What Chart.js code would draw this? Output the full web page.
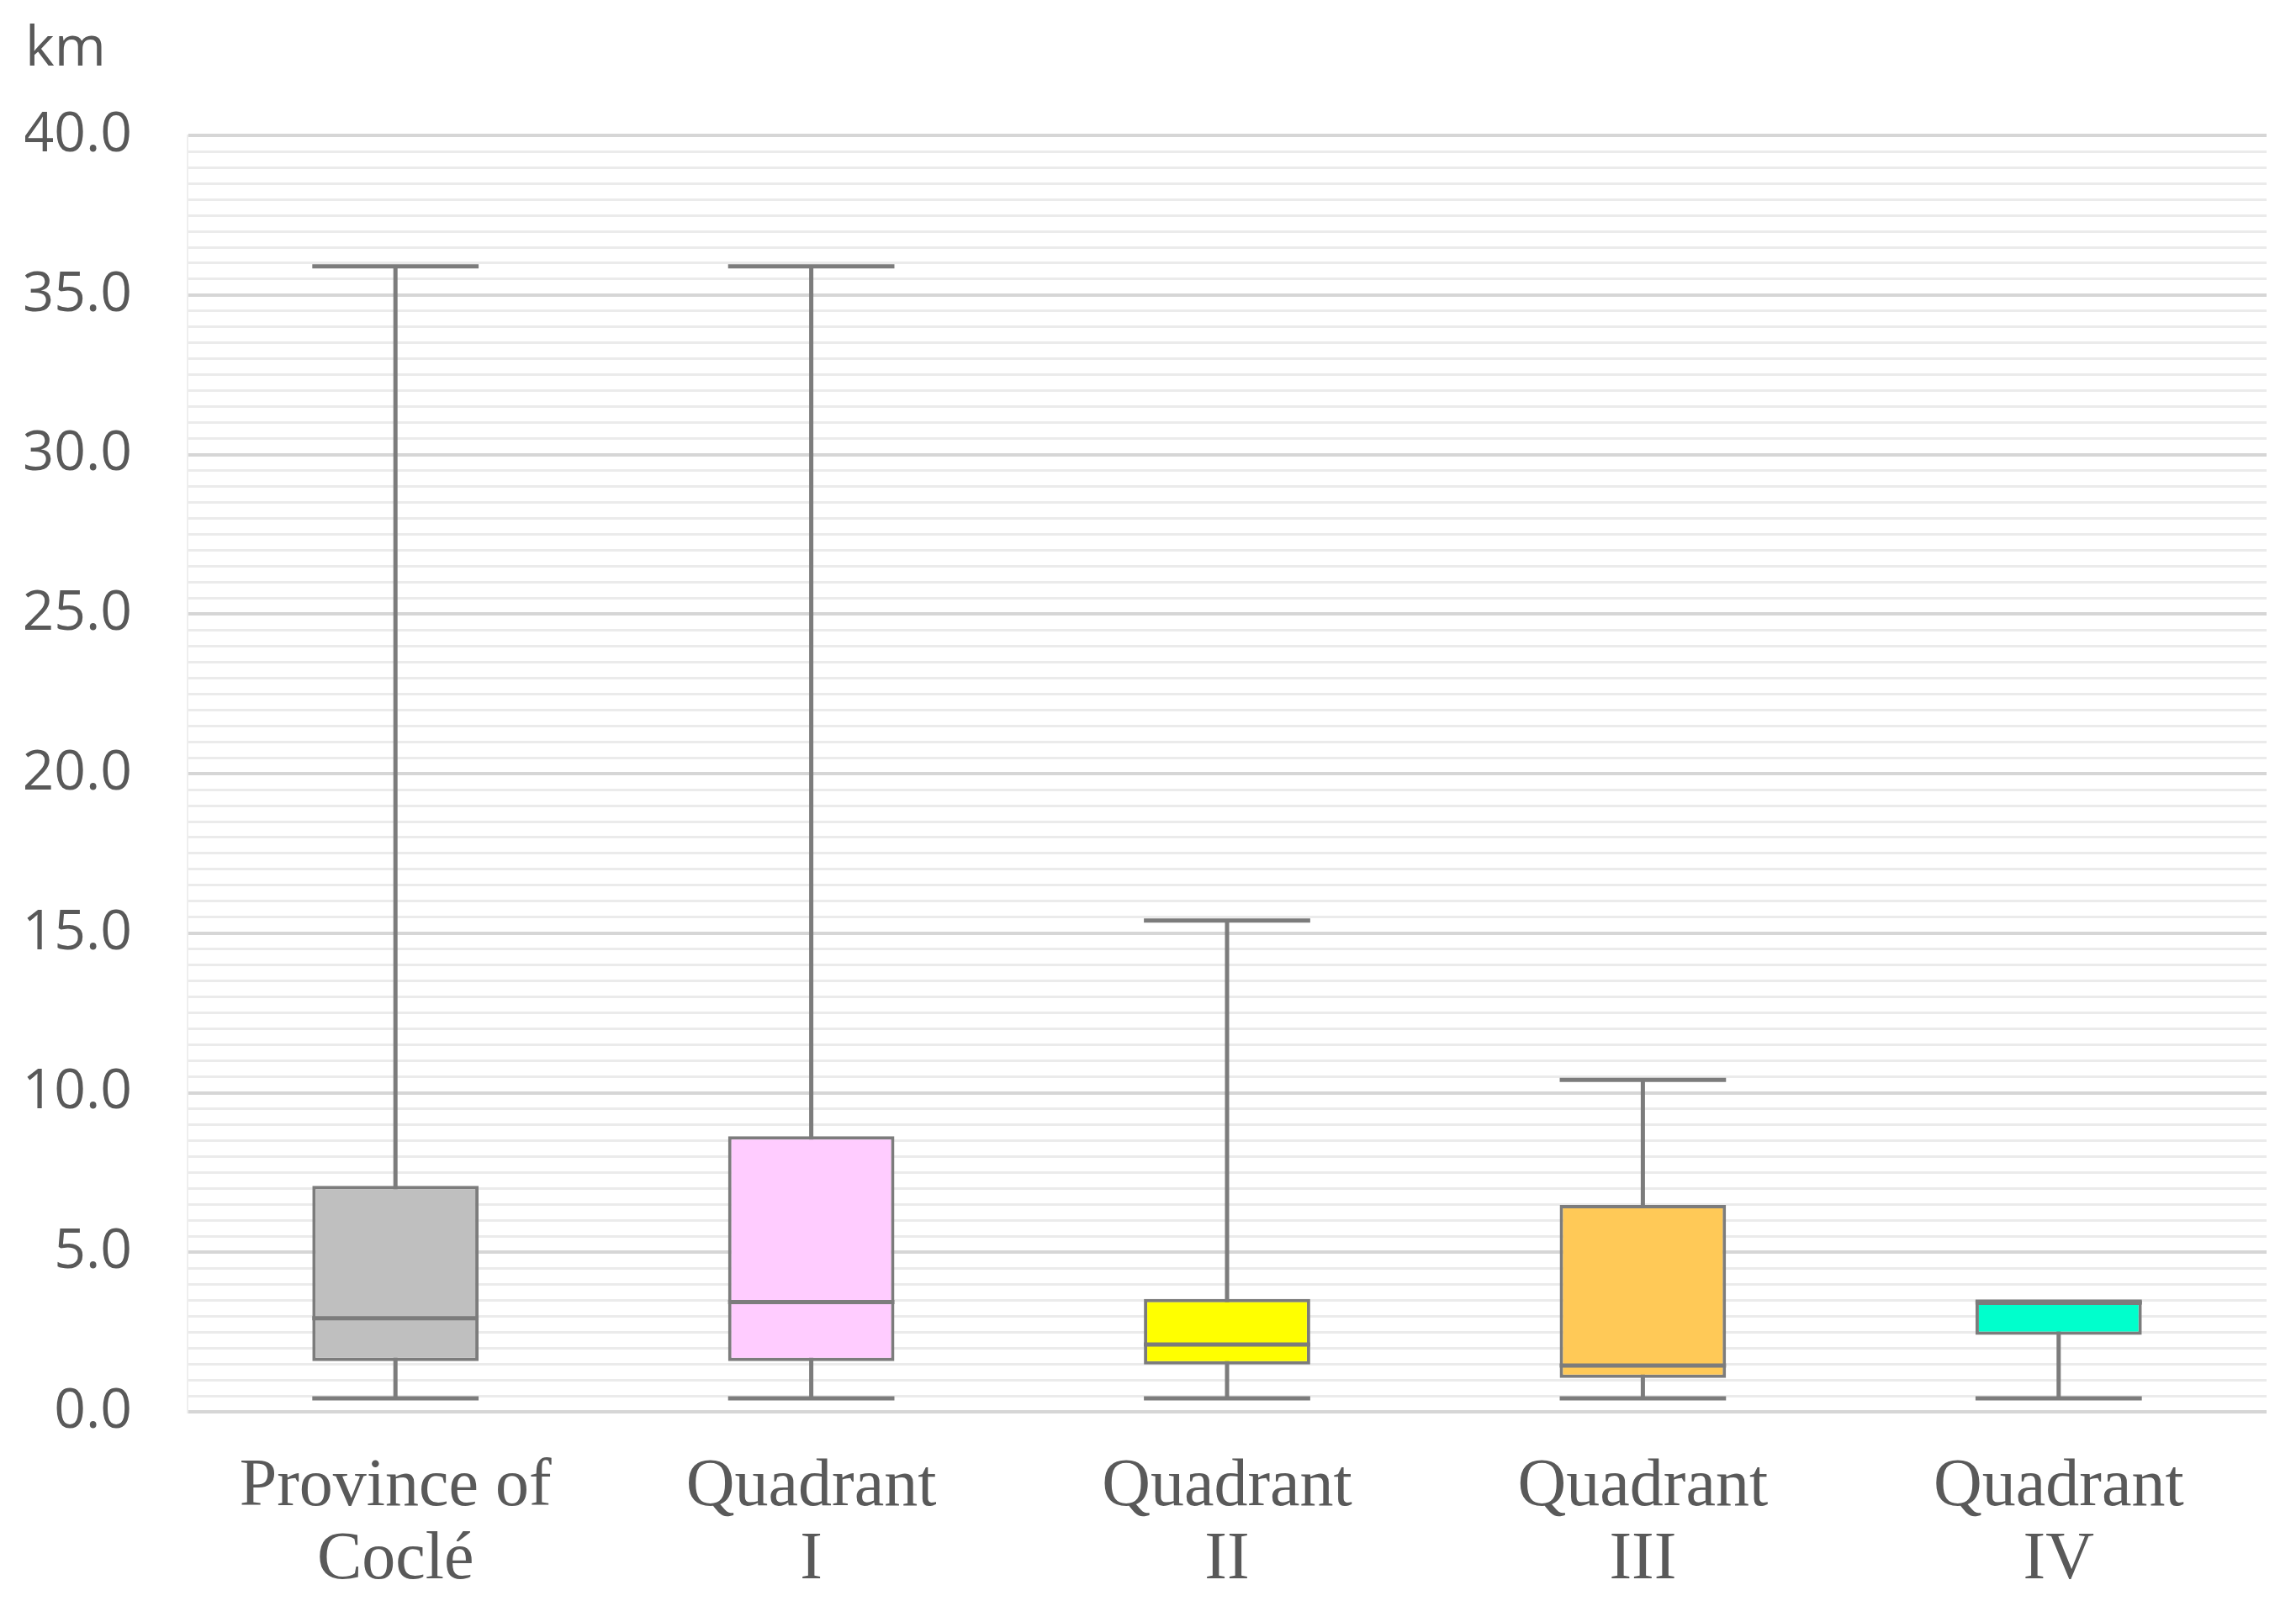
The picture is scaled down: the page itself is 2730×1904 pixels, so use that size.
<!DOCTYPE html>
<html>
<head>
<meta charset="utf-8">
<script src="https://cdn.jsdelivr.net/npm/chart.js@4"></script>
<style>
	html, body { margin: 0; padding: 0; background: #ffffff; }
	#wrap { width: 2730px; height: 1904px; position: relative; }
</style>
</head>
<body>
<div id="wrap"><canvas id="boxChart"></canvas></div>
<script>
// Box plot data (km)
const categories = [
	["Province of", "Coclé"],
	["Quadrant", "I"],
	["Quadrant", "II"],
	["Quadrant", "III"],
	["Quadrant", "IV"],
];
const minValues = [0.42, 0.42, 0.42, 0.42, 0.42];
const q1Values = [1.59, 1.59, 1.48, 1.06, 2.41];
const medianValues = [2.93, 3.44, 2.11, 1.45, 3.42];
const q3Values = [7.08, 8.64, 3.54, 6.48, 3.45];
const maxValues = [35.9, 35.9, 15.4, 10.4, 3.45];
const boxColors = ["#bfbfbf", "#ffccff", "#ffff00", "#ffc957", "#00ffcc"];

const lineGray = "#7c7c7c";

// Whiskers, caps and medians drawn through the chart scales
const whiskerPlugin = {
	id: "whiskers",
	beforeDatasetsDraw(chart) {
		const ctx = chart.ctx;
		const y = chart.scales.y;
		const bars = chart.getDatasetMeta(0).data;
		ctx.save();
		ctx.strokeStyle = lineGray;
		ctx.lineWidth = 5;
		bars.forEach((bar, i) => {
			ctx.beginPath();
			ctx.moveTo(bar.x, y.getPixelForValue(minValues[i]));
			ctx.lineTo(bar.x, y.getPixelForValue(maxValues[i]));
			ctx.stroke();
		});
		ctx.restore();
	},
	afterDatasetsDraw(chart) {
		const ctx = chart.ctx;
		const y = chart.scales.y;
		const bars = chart.getDatasetMeta(0).data;
		ctx.save();
		ctx.strokeStyle = lineGray;
		ctx.lineWidth = 5;
		bars.forEach((bar, i) => {
			const half = bar.width / 2;
			[minValues[i], maxValues[i], medianValues[i]].forEach((v) => {
				const py = y.getPixelForValue(v);
				ctx.beginPath();
				ctx.moveTo(bar.x - half, py);
				ctx.lineTo(bar.x + half, py);
				ctx.stroke();
			});
		});
		ctx.restore();
	},
};

new Chart(document.getElementById("boxChart"), {
	type: "bar",
	data: {
		labels: categories,
		datasets: [
			{
				data: q1Values.map((q, i) => [q, q3Values[i]]),
				backgroundColor: boxColors,
				borderColor: lineGray,
				borderWidth: 4,
				borderSkipped: false,
				barPercentage: 0.4,
				categoryPercentage: 1.0,
			},
		],
	},
	options: {
		responsive: true,
		maintainAspectRatio: false,
		devicePixelRatio: 1,
		animation: false,
		layout: {
			padding: { left: 30, right: 35, top: 0, bottom: 13 },
		},
		plugins: {
			legend: { display: false },
			tooltip: { enabled: false },
			title: {
				display: true,
				text: "km",
				align: "start",
				color: "#595959",
				font: { family: "'Open Sans', sans-serif", size: 66, weight: "normal" },
				padding: { top: 20, bottom: 62 },
			},
		},
		scales: {
			x: {
				grid: { display: false, drawTicks: false },
				border: { display: false },
				afterFit: (scale) => {
					scale.height = 212;
				},
				ticks: {
					color: "#595959",
					padding: 46,
					font: { family: "'Liberation Serif', serif", size: 80, lineHeight: 1.09 },
				},
			},
			y: {
				min: 0,
				max: 40,
				border: { display: true, color: "#eeeeee", width: 2 },
				afterFit: (scale) => {
					scale.width = 193;
				},
				grid: {
					drawTicks: false,
					color: (c) => (c.tick && Math.abs(c.tick.value % 5) < 1e-6 ? "#d6d6d6" : "#ebebeb"),
					lineWidth: (c) => (c.tick && Math.abs(c.tick.value % 5) < 1e-6 ? 4 : 3),
				},
				ticks: {
					stepSize: 0.5,
					autoSkip: false,
					padding: 66,
					color: "#595959",
					font: { family: "'Open Sans', sans-serif", size: 66 },
					callback: (v) => (Math.abs(v % 5) < 1e-6 ? Number(v).toFixed(1) : ""),
				},
			},
		},
	},
	plugins: [whiskerPlugin],
});
</script>
</body>
</html>
